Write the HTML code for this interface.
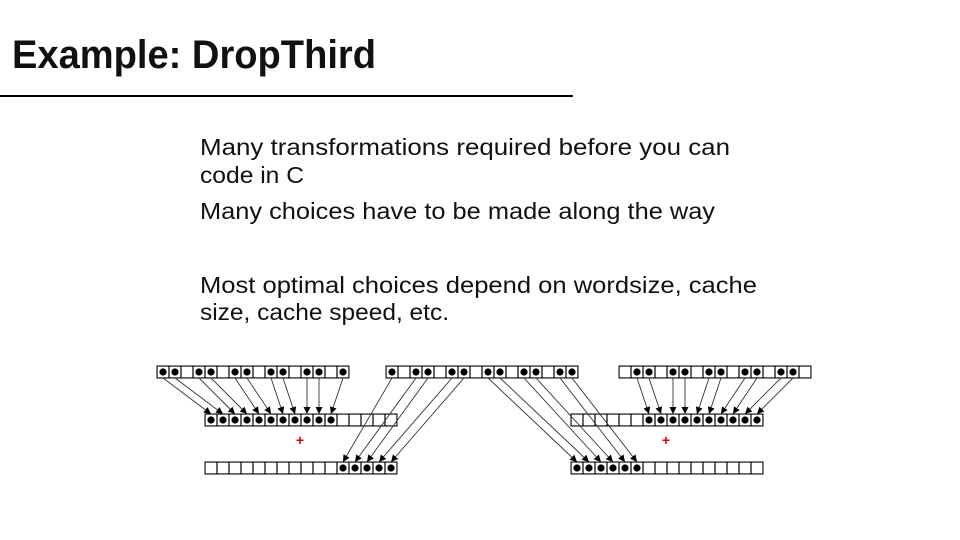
<!DOCTYPE html>
<html><head><meta charset="utf-8"><style>html,body{margin:0;padding:0;background:#fff}svg{display:block}</style></head>
<body>
<svg width="960" height="540" viewBox="0 0 960 540" xmlns="http://www.w3.org/2000/svg">
<defs>
<pattern id="g" patternUnits="userSpaceOnUse" width="12" height="12"><rect x="0" y="0" width="12" height="12" fill="#fff" stroke="#000" stroke-width="1.2"/></pattern>
<marker id="m" viewBox="0 0 10 10" refX="10" refY="5" markerWidth="7" markerHeight="7" markerUnits="userSpaceOnUse" orient="auto"><path d="M0,0L10,5L0,10z" fill="#000"/></marker>
</defs>
<text x="12" y="68" font-family="Liberation Sans, sans-serif" font-size="40" font-weight="bold" textLength="364" lengthAdjust="spacingAndGlyphs" fill="#111">Example: DropThird</text>
<rect x="0" y="95" width="573" height="2" fill="#000"/>
<g font-family="Liberation Sans, sans-serif" font-size="23" fill="#111">
<text x="200" y="155" textLength="530" lengthAdjust="spacingAndGlyphs">Many transformations required before you can</text>
<text x="200" y="183" textLength="104" lengthAdjust="spacingAndGlyphs">code in C</text>
<text x="200" y="219" textLength="515" lengthAdjust="spacingAndGlyphs">Many choices have to be made along the way</text>
<text x="200" y="293" textLength="557" lengthAdjust="spacingAndGlyphs">Most optimal choices depend on wordsize, cache</text>
<text x="200" y="320" textLength="249" lengthAdjust="spacingAndGlyphs">size, cache speed, etc.</text>
</g>
<g stroke="#000">
<g transform="translate(157,366)"><rect width="192" height="12" fill="url(#g)"/></g>
<g transform="translate(386,366)"><rect width="192" height="12" fill="url(#g)"/></g>
<g transform="translate(619,366)"><rect width="192" height="12" fill="url(#g)"/></g>
<g transform="translate(205,414)"><rect width="192" height="12" fill="url(#g)"/></g>
<g transform="translate(205,462)"><rect width="192" height="12" fill="url(#g)"/></g>
<g transform="translate(571,414)"><rect width="192" height="12" fill="url(#g)"/></g>
<g transform="translate(571,462)"><rect width="192" height="12" fill="url(#g)"/></g>
</g>
<g fill="#000">
<circle cx="163" cy="372" r="3.6"/><circle cx="175" cy="372" r="3.6"/><circle cx="199" cy="372" r="3.6"/><circle cx="211" cy="372" r="3.6"/><circle cx="235" cy="372" r="3.6"/><circle cx="247" cy="372" r="3.6"/><circle cx="271" cy="372" r="3.6"/><circle cx="283" cy="372" r="3.6"/><circle cx="307" cy="372" r="3.6"/><circle cx="319" cy="372" r="3.6"/><circle cx="343" cy="372" r="3.6"/>
<circle cx="392" cy="372" r="3.6"/><circle cx="416" cy="372" r="3.6"/><circle cx="428" cy="372" r="3.6"/><circle cx="452" cy="372" r="3.6"/><circle cx="464" cy="372" r="3.6"/><circle cx="488" cy="372" r="3.6"/><circle cx="500" cy="372" r="3.6"/><circle cx="524" cy="372" r="3.6"/><circle cx="536" cy="372" r="3.6"/><circle cx="560" cy="372" r="3.6"/><circle cx="572" cy="372" r="3.6"/>
<circle cx="637" cy="372" r="3.6"/><circle cx="649" cy="372" r="3.6"/><circle cx="673" cy="372" r="3.6"/><circle cx="685" cy="372" r="3.6"/><circle cx="709" cy="372" r="3.6"/><circle cx="721" cy="372" r="3.6"/><circle cx="745" cy="372" r="3.6"/><circle cx="757" cy="372" r="3.6"/><circle cx="781" cy="372" r="3.6"/><circle cx="793" cy="372" r="3.6"/>
<circle cx="211" cy="420" r="3.6"/><circle cx="223" cy="420" r="3.6"/><circle cx="235" cy="420" r="3.6"/><circle cx="247" cy="420" r="3.6"/><circle cx="259" cy="420" r="3.6"/><circle cx="271" cy="420" r="3.6"/><circle cx="283" cy="420" r="3.6"/><circle cx="295" cy="420" r="3.6"/><circle cx="307" cy="420" r="3.6"/><circle cx="319" cy="420" r="3.6"/><circle cx="331" cy="420" r="3.6"/>
<circle cx="343" cy="468" r="3.6"/><circle cx="355" cy="468" r="3.6"/><circle cx="367" cy="468" r="3.6"/><circle cx="379" cy="468" r="3.6"/><circle cx="391" cy="468" r="3.6"/>
<circle cx="649" cy="420" r="3.6"/><circle cx="661" cy="420" r="3.6"/><circle cx="673" cy="420" r="3.6"/><circle cx="685" cy="420" r="3.6"/><circle cx="697" cy="420" r="3.6"/><circle cx="709" cy="420" r="3.6"/><circle cx="721" cy="420" r="3.6"/><circle cx="733" cy="420" r="3.6"/><circle cx="745" cy="420" r="3.6"/><circle cx="757" cy="420" r="3.6"/>
<circle cx="577" cy="468" r="3.6"/><circle cx="589" cy="468" r="3.6"/><circle cx="601" cy="468" r="3.6"/><circle cx="613" cy="468" r="3.6"/><circle cx="625" cy="468" r="3.6"/><circle cx="637" cy="468" r="3.6"/>
</g>
<g stroke="#333" stroke-width="0.9" marker-end="url(#m)">
<line x1="163" y1="378" x2="211" y2="414"/><line x1="175" y1="378" x2="223" y2="414"/><line x1="199" y1="378" x2="235" y2="414"/><line x1="211" y1="378" x2="247" y2="414"/><line x1="235" y1="378" x2="259" y2="414"/><line x1="247" y1="378" x2="271" y2="414"/><line x1="271" y1="378" x2="283" y2="414"/><line x1="283" y1="378" x2="295" y2="414"/><line x1="307" y1="378" x2="307" y2="414"/><line x1="319" y1="378" x2="319" y2="414"/><line x1="343" y1="378" x2="331" y2="414"/>
<line x1="392" y1="378" x2="343" y2="462"/><line x1="416" y1="378" x2="355" y2="462"/><line x1="428" y1="378" x2="367" y2="462"/><line x1="452" y1="378" x2="379" y2="462"/><line x1="464" y1="378" x2="391" y2="462"/>
<line x1="488" y1="378" x2="577" y2="462"/><line x1="500" y1="378" x2="589" y2="462"/><line x1="524" y1="378" x2="601" y2="462"/><line x1="536" y1="378" x2="613" y2="462"/><line x1="560" y1="378" x2="625" y2="462"/><line x1="572" y1="378" x2="637" y2="462"/>
<line x1="637" y1="378" x2="649" y2="414"/><line x1="649" y1="378" x2="661" y2="414"/><line x1="673" y1="378" x2="673" y2="414"/><line x1="685" y1="378" x2="685" y2="414"/><line x1="709" y1="378" x2="697" y2="414"/><line x1="721" y1="378" x2="709" y2="414"/><line x1="745" y1="378" x2="721" y2="414"/><line x1="757" y1="378" x2="733" y2="414"/><line x1="781" y1="378" x2="745" y2="414"/><line x1="793" y1="378" x2="757" y2="414"/>
</g>
<g fill="#e00000" font-family="Liberation Sans, sans-serif" font-size="14" font-weight="bold" text-anchor="middle">
<text x="300" y="445">+</text>
<text x="666" y="445">+</text>
</g>
</svg>
</body></html>
